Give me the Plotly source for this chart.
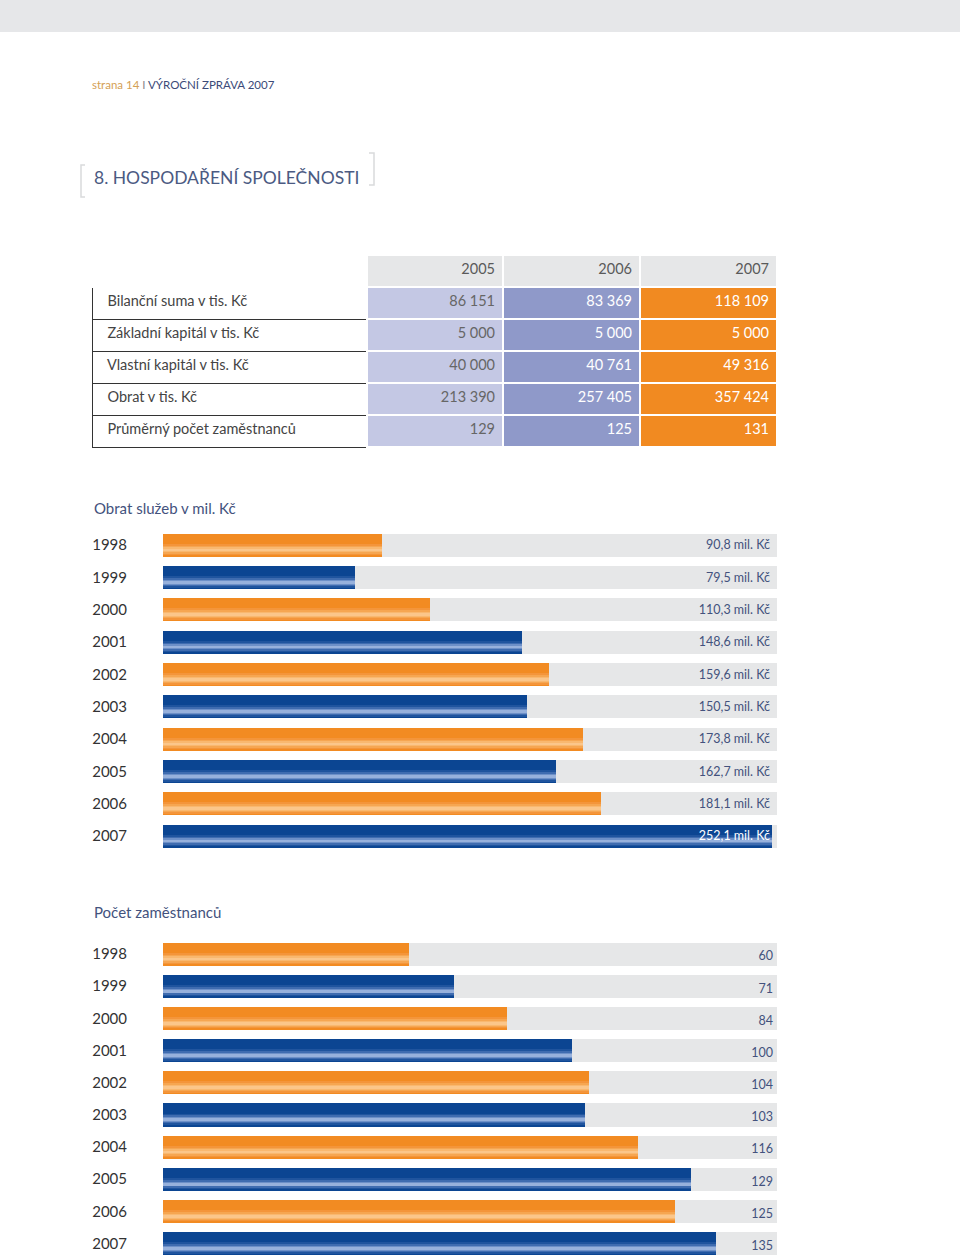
import plotly.graph_objects as go

# ---------------- data ----------------
table_years = ["2005", "2006", "2007"]
table_rows = ["Bilanční suma v tis. Kč", "Základní kapitál v tis. Kč", "Vlastní kapitál v tis. Kč",
              "Obrat v tis. Kč", "Průměrný počet zaměstnanců"]
col_2005 = ["86 151", "5 000", "40 000", "213 390", "129"]
col_2006 = ["83 369", "5 000", "40 761", "257 405", "125"]
col_2007 = ["118 109", "5 000", "49 316", "357 424", "131"]

years = ["1998", "1999", "2000", "2001", "2002", "2003", "2004", "2005", "2006", "2007"]
turnover = [90.8, 79.5, 110.3, 148.6, 159.6, 150.5, 173.8, 162.7, 181.1, 252.1]
turnover_labels = ["90,8 mil. Kč", "79,5 mil. Kč", "110,3 mil. Kč", "148,6 mil. Kč", "159,6 mil. Kč",
                   "150,5 mil. Kč", "173,8 mil. Kč", "162,7 mil. Kč", "181,1 mil. Kč", "252,1 mil. Kč"]
employees = [60, 71, 84, 100, 104, 103, 116, 129, 125, 135]
employee_labels = ["60", "71", "84", "100", "104", "103", "116", "129", "125", "135"]

# ---------------- style ----------------
W, H = 960, 1257
FONT = "Lato"
SLATE = "#43527d"
TRACK = "#e6e7e8"
BAR_H = 0.72
PLOT_W = 777 - 163
# nested vertical gradient slices (fraction of bar height from top) and colours
SLICES = [(0.00, 1.00), (0.44, 0.93), (0.52, 0.87), (0.60, 0.81), (0.65, 0.77)]
ORANGE_BANDS = ["#f28b22", "#f4953a", "#f6a651", "#f9b86f", "#fbc68a"]
BLUE_BANDS = ["#0b4592", "#1f549e", "#3f6cb0", "#6d90c8", "#97b1dc"]


def px_x(p):
    return p / W


def px_y(p):
    return 1 - p / H


fig = go.Figure()

# ---------------- table ----------------
fig.add_trace(go.Table(
    domain=dict(x=[px_x(92), px_x(777)], y=[px_y(448), px_y(255)]),
    columnwidth=[275, 136, 137, 137],
    header=dict(
        values=[""] + table_years,
        fill_color=["white", TRACK, TRACK, TRACK],
        line=dict(color="white", width=2),
        align=["left", "right", "right", "right"],
        font=dict(family=FONT, size=14.5, color="#5a5a5a"),
        height=32,
    ),
    cells=dict(
        values=[["\u00a0\u00a0" + r for r in table_rows], col_2005, col_2006, col_2007],
        fill_color=["white", "#c4c8e4", "#8f99c9", "#f18a21"],
        line=dict(color=["#333333", "white", "white", "white"], width=[1, 2, 2, 2]),
        align=["left", "right", "right", "right"],
        font=dict(family=FONT, size=14.5, color=["#444444", "#666666", "white", "white"]),
        height=32,
    ),
))

# ---------------- bar charts ----------------
idx = list(range(len(years)))


def add_bars(values, labels, xmax, xa, ya, label_colors, label_dy, gap_px):
    fig.add_trace(go.Bar(x=[xmax] * len(values), y=idx, orientation="h",
                         width=BAR_H, offset=-BAR_H / 2, marker=dict(color=TRACK, line=dict(width=0)),
                         xaxis=xa, yaxis=ya, hoverinfo="skip", showlegend=False))
    for b, (f0, f1) in enumerate(SLICES):
        cols = [ORANGE_BANDS[b] if i % 2 == 0 else BLUE_BANDS[b] for i in idx]
        fig.add_trace(go.Bar(x=values, y=idx, orientation="h",
                             width=(f1 - f0) * BAR_H, offset=-BAR_H / 2 + f0 * BAR_H,
                             marker=dict(color=cols, line=dict(width=0)),
                             xaxis=xa, yaxis=ya, hoverinfo="skip", showlegend=False))
    lx = xmax - gap_px * xmax / PLOT_W
    fig.add_trace(go.Scatter(x=[lx] * len(values), y=[i + label_dy for i in idx], mode="text",
                             text=labels, textposition="middle left",
                             textfont=dict(family=FONT, size=12.5, color=label_colors),
                             xaxis=xa, yaxis=ya, hoverinfo="skip", showlegend=False))


X1MAX, X2MAX = 254, 150
add_bars(turnover, turnover_labels, X1MAX, "x", "y",
         [SLATE] * 9 + ["white"], 0.04, 7)
add_bars(employees, employee_labels, X2MAX, "x2", "y2",
         [SLATE] * 10, 0.1, 4)

# chart 1 rows: centres 545 .. 836 (32.33 px per row)
c1_top = 545 - 0.5 * 32.33
c1_bot = 836 + 0.5 * 32.33
# chart 2 rows: centres 954 .. 1243.5 (32.17 px per row)
c2_top = 954 - 0.5 * 32.17
c2_bot_val = 9 + (1257 - 1243.5) / 32.17

axis_common = dict(showgrid=False, zeroline=False, showline=False)
fig.update_layout(
    width=W, height=H, margin=dict(l=0, r=0, t=0, b=0),
    paper_bgcolor="white", plot_bgcolor="white",
    barmode="overlay", bargap=0,
    xaxis=dict(domain=[px_x(163), px_x(777)], range=[0, X1MAX], visible=False, **axis_common),
    yaxis=dict(domain=[px_y(c1_bot), px_y(c1_top)], range=[9.5, -0.5], tickvals=idx, ticktext=years,
               ticks="", ticklabelstandoff=35,
               tickfont=dict(family=FONT, size=15, color="#333333"), anchor="x", **axis_common),
    xaxis2=dict(domain=[px_x(163), px_x(777)], range=[0, X2MAX], visible=False, anchor="y2", **axis_common),
    yaxis2=dict(domain=[0, px_y(c2_top)], range=[c2_bot_val, -0.5], tickvals=idx, ticktext=years,
                ticks="", ticklabelstandoff=35,
                tickfont=dict(family=FONT, size=15, color="#333333"), anchor="x2", **axis_common),
    font=dict(family=FONT),
)

# ---------------- page decorations ----------------
shapes = [
    dict(type="rect", xref="paper", yref="paper", x0=0, x1=1, y0=px_y(32), y1=1,
         fillcolor="#e6e7e9", line=dict(width=0), layer="below"),
    dict(type="path", xref="paper", yref="paper",
         path=f"M {px_x(85)},{px_y(165)} L {px_x(81)},{px_y(165)} L {px_x(81)},{px_y(197)} L {px_x(85)},{px_y(197)}",
         line=dict(color="#d9dadc", width=1.5)),
    dict(type="path", xref="paper", yref="paper",
         path=f"M {px_x(369)},{px_y(153)} L {px_x(374)},{px_y(153)} L {px_x(374)},{px_y(185)} L {px_x(369)},{px_y(185)}",
         line=dict(color="#d9dadc", width=1.5)),
]
fig.update_layout(shapes=shapes)

annotations = [
    dict(text="<span style='color:#d4a055'>strana 14</span> <span style='color:#888'>I</span> VÝROČNÍ ZPRÁVA 2007",
         x=px_x(90), y=px_y(85), xref="paper", yref="paper", xanchor="left", yanchor="middle",
         showarrow=False, font=dict(family=FONT, size=11.5, color="#3b4a78")),
    dict(text="8. HOSPODAŘENÍ SPOLEČNOSTI", x=px_x(92), y=px_y(177), xref="paper", yref="paper",
         xanchor="left", yanchor="middle", showarrow=False,
         font=dict(family=FONT, size=17.5, color="#4b5a82")),
    dict(text="Obrat služeb v mil. Kč", x=px_x(92), y=px_y(508), xref="paper", yref="paper",
         xanchor="left", yanchor="middle", showarrow=False,
         font=dict(family=FONT, size=15, color=SLATE)),
    dict(text="Počet zaměstnanců", x=px_x(92), y=px_y(912), xref="paper", yref="paper",
         xanchor="left", yanchor="middle", showarrow=False,
         font=dict(family=FONT, size=15, color=SLATE)),
]
fig.update_layout(annotations=annotations)

fig.write_html("out.html", config={"displayModeBar": False},
               post_script="document.body.style.margin='0';document.body.style.padding='0';")
